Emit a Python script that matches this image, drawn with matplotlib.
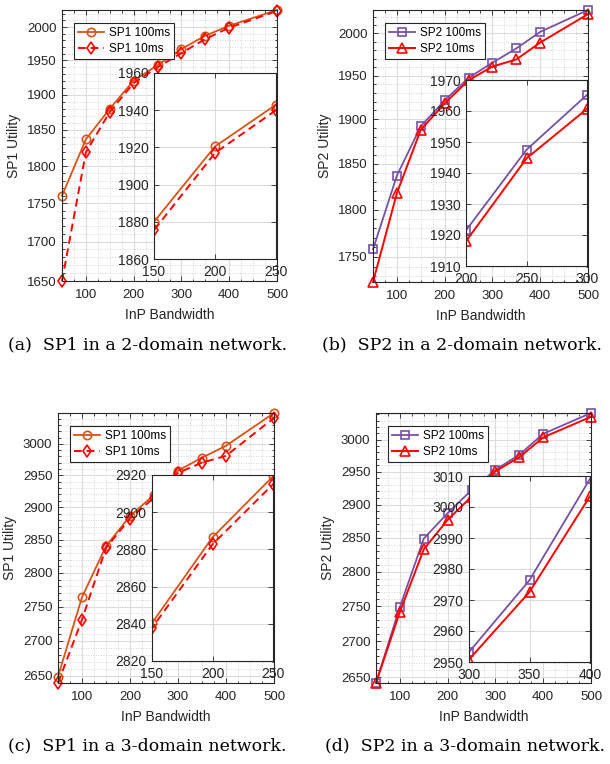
import matplotlib
matplotlib.use("Agg")
import matplotlib.pyplot as plt
from matplotlib.ticker import FixedLocator, FixedFormatter, MultipleLocator, NullFormatter

plt.rcParams['font.family'] = ['Liberation Sans', 'DejaVu Sans']

# InP bandwidth values (x)
bw = [50, 100, 150, 200, 250, 300, 350, 400, 500]

# (a) SP1, 2-domain
a_100 = [1760, 1837, 1880, 1920.5, 1943, 1967, 1987, 2002, 2026]
a_10 = [1650, 1819, 1875.5, 1917, 1940, 1961, 1982, 1999, 2024.5]
# (b) SP2, 2-domain
b_100 = [1758, 1837, 1892, 1921.5, 1947.5, 1965.2, 1982, 2001.7, 2028]
b_10 = [1724, 1818, 1888, 1918, 1944.7, 1960.7, 1969, 1989, 2023]
# (c) SP1, 3-domain
c_100 = [2649, 2764, 2840.4, 2886.5, 2919.3, 2957.5, 2978, 2997, 3050]
c_10 = [2640, 2731, 2837.8, 2882.7, 2915, 2954, 2970, 2981, 3042]
# (d) SP2, 3-domain
d_100 = [2642.5, 2749, 2849, 2887, 2922, 2953.2, 2976.4, 3009.1, 3042]
d_10 = [2642, 2742, 2833, 2877, 2912, 2950.8, 2972.6, 3003.5, 3036]

x_ticks = [100, 200, 300, 400, 500]
yticks_2dom = [1650, 1700, 1750, 1800, 1850, 1900, 1950, 2000]
yticks_3dom = [2650, 2700, 2750, 2800, 2850, 2900, 2950, 3000]

captions = ['(a)  SP1 in a 2-domain network.', '(b)  SP2 in a 2-domain network.',
            '(c)  SP1 in a 3-domain network.', '(d)  SP2 in a 3-domain network.']

DARK = '#262626'
ORANGE = '#D95319'
RED = '#FF0000'
PURPLE = '#7652A6'

W, H = 610, 764


def px_rect(left, top, right, bottom):
    return [left / W, 1 - bottom / H, (right - left) / W, (bottom - top) / H]


def style_axes(ax, minor=True):
    ax.set_axisbelow(True)
    for s in ax.spines.values():
        s.set_color(DARK)
        s.set_linewidth(0.8)
    ax.tick_params(which='both', direction='in', top=True, right=True,
                   color=DARK, labelcolor=DARK, labelsize=9.5, width=0.6)
    ax.tick_params(which='major', length=3.5, pad=4)
    ax.tick_params(which='minor', length=1.8)
    ax.grid(which='major', color='#dcdcdc', lw=0.8, ls='-')
    if minor:
        ax.grid(which='minor', color='#c8c8c8', lw=0.6, ls=(0, (1, 2)))


def draw_series(ax, y1, y2, lab1, lab2, c1, m1, ls2, m2, clip):
    ax.plot(bw, y1, color=c1, lw=1.3, marker=m1, ms=6, mfc='none', mew=1.2,
            label=lab1, clip_on=clip)
    ax.plot(bw, y2, color=RED, lw=1.4, ls=ls2, marker=m2, ms=6.5 if m2 == '^' else 6,
            mfc='none', mew=1.2, label=lab2, clip_on=clip)


def main():
    fig = plt.figure(figsize=(6.1, 7.64), dpi=100)

    panels = [
        (a_100, a_10, 'SP1', ORANGE, 'o', (0, (4, 2.5)), 'd', yticks_2dom,
         px_rect(62, 10, 277, 281), px_rect(154, 73, 276, 259), (150, 250), [150, 200, 250],
         (1860, 1960), [1860, 1880, 1900, 1920, 1940, 1960]),
        (b_100, b_10, 'SP2', PURPLE, 's', '-', '^', yticks_2dom,
         px_rect(373, 10, 588, 282), px_rect(466, 80, 587, 266), (200, 300), [200, 250, 300],
         (1910, 1970), [1910, 1920, 1930, 1940, 1950, 1960, 1970]),
        (c_100, c_10, 'SP1', ORANGE, 'o', (0, (4, 2.5)), 'd', yticks_3dom,
         px_rect(58, 413, 274, 683), px_rect(152, 475, 273, 661), (150, 250), [150, 200, 250],
         (2820, 2920), [2820, 2840, 2860, 2880, 2900, 2920]),
        (d_100, d_10, 'SP2', PURPLE, 's', '-', '^', yticks_3dom,
         px_rect(376, 413, 591, 683), px_rect(469, 476, 590, 662), (300, 400), [300, 350, 400],
         (2950, 3010), [2950, 2960, 2970, 2980, 2990, 3000, 3010]),
    ]

    for (y1, y2, sp, c1, m1, ls2, m2, yt, rect, rect_in, xl_in, xt_in, yl_in, yt_in) in panels:
        ax = fig.add_axes(rect)
        draw_series(ax, y1, y2, sp + ' 100ms', sp + ' 10ms', c1, m1, ls2, m2, False)
        ax.set_yscale('log')
        ax.set_xlim(50, 500)
        ax.set_ylim(min(y1 + y2), max(y1 + y2))
        ax.xaxis.set_major_locator(FixedLocator(x_ticks))
        ax.xaxis.set_minor_locator(MultipleLocator(25))
        ax.yaxis.set_major_locator(FixedLocator(yt))
        ax.yaxis.set_major_formatter(FixedFormatter([str(v) for v in yt]))
        ax.yaxis.set_minor_locator(MultipleLocator(10))
        ax.yaxis.set_minor_formatter(NullFormatter())
        style_axes(ax)
        ax.tick_params(axis='x', which='major', pad=6)
        ax.set_xlabel('InP Bandwidth', fontsize=10, color=DARK, labelpad=5)
        ax.set_ylabel(sp + ' Utility', fontsize=10, color=DARK)
        ax.yaxis.set_label_coords(-0.19, 0.5)
        leg = ax.legend(loc='upper left', bbox_to_anchor=(0.056, 0.951), borderaxespad=0,
                        fontsize=8.5, fancybox=False, edgecolor=DARK, framealpha=1,
                        handlelength=2.2, borderpad=0.35, labelspacing=0.3, handletextpad=0.4)
        leg.get_frame().set_linewidth(0.8)

        axi = fig.add_axes(rect_in)
        draw_series(axi, y1, y2, None, None, c1, m1, ls2, m2, True)
        axi.set_xlim(*xl_in)
        axi.set_ylim(*yl_in)
        axi.set_xticks(xt_in)
        axi.set_yticks(yt_in)
        style_axes(axi, minor=False)
        axi.tick_params(labelsize=10)

    cap_pos = [(8, 345), (322, 345), (8, 746), (325, 746)]
    for (cx, cy), cap in zip(cap_pos, captions):
        fig.text(cx / W, 1 - cy / H, cap, family='DejaVu Serif', fontsize=12.5,
                 va='center', ha='left')

    fig.savefig('out.png', dpi=100)


if __name__ == "__main__":
    main()
